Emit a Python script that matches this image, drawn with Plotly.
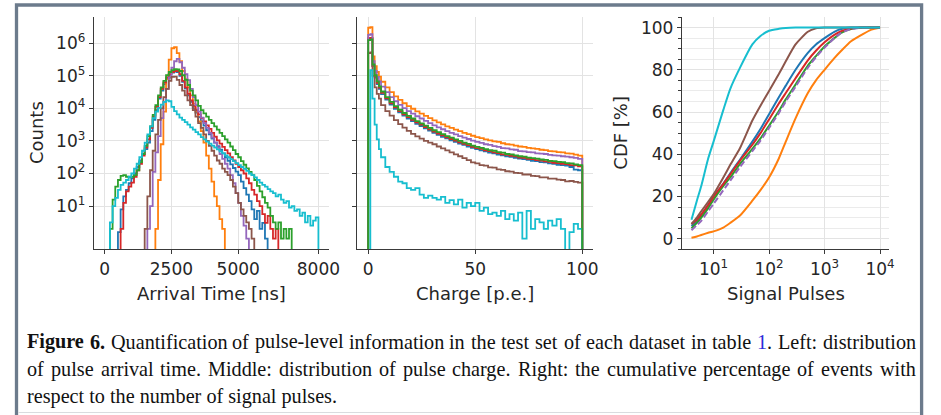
import plotly.graph_objects as go

# ---------------- data ----------------
E = -3  # empty bin (log10 count below axis)

# Left panel: log10(counts) per 100 ns bin, bins [0,100) ... [7900,8000)
time_edges = list(range(0, 8001, 100))

blue_time = [E, E, E, E, E, 0.2, 0.9, 1.3, 1.5, 1.7,
             1.85, 2.0, 2.2, 2.4, 2.6, 2.75, 2.95, 3.3, 3.65, 3.95,
             4.3, 4.55, 4.75, 4.92, 5.03, 5.1, 5.13, 5.12, 5.0, 4.82,
             4.62, 4.4, 4.2, 4.0, 3.87, 3.73, 3.6, 3.47, 3.33, 3.2,
             3.07, 2.95, 2.84, 2.73, 2.62, 2.5, 2.39, 2.28, 2.17, 2.06,
             1.95, 1.75, 1.55, 1.35, 1.15, 0.9, 0.6, 0.85, 0.3, 0.48,
             0.0, E, E, E, E, E, E, E, E, E,
             E, E, E, E, E, E, E, E, E, E]
orange_time = [E, E, E, E, E, E, E, E, E, E,
               E, E, E, E, E, E, E, E, E, 0.3,
               1.8, 2.9, 3.9, 4.9, 5.5, 5.85, 5.88, 5.7, 5.45, 5.15,
               4.9, 4.65, 4.4, 4.15, 3.9, 3.6, 3.3, 2.95, 2.55, 2.15,
               1.75, 1.3, 1.0, 0.6, 0.3, E, E, E, E, E,
               E, E, E, E, E, E, E, E, E, E,
               E, E, E, E, E, E, E, E, E, E,
               E, E, E, E, E, E, E, E, E, E]
green_time = [E, E, 0.3, 1.2, 1.6, 1.8, 1.93, 1.95, 1.9, 1.88,
              1.9, 1.95, 2.1, 2.35, 2.6, 2.85, 3.15, 3.45, 3.8, 4.1,
              4.4, 4.65, 4.85, 5.02, 5.12, 5.18, 5.21, 5.2, 5.15, 5.02,
              4.88, 4.72, 4.55, 4.4, 4.25, 4.08, 3.95, 3.85, 3.75, 3.65,
              3.55, 3.45, 3.35, 3.25, 3.15, 3.05, 2.95, 2.83, 2.72, 2.6,
              2.5, 2.38, 2.27, 2.16, 2.05, 1.95, 1.8, 1.62, 1.45, 1.27,
              1.1, 0.95, 0.7, 0.5, 0.3, 0.5, 0.0, 0.3, 0.0, 0.3,
              E, E, E, E, E, E, E, E, E, E]
red_time = [E, E, E, E, E, E, 0.3, 1.1, 1.45, 1.6,
            1.72, 1.9, 2.1, 2.3, 2.55, 2.8, 3.05, 3.4, 3.75, 4.05,
            4.35, 4.6, 4.8, 4.95, 5.05, 5.12, 5.15, 5.15, 5.05, 4.85,
            4.65, 4.45, 4.25, 4.08, 3.95, 3.82, 3.7, 3.6, 3.48, 3.37,
            3.25, 3.13, 3.02, 2.92, 2.82, 2.72, 2.62, 2.5, 2.4, 2.3,
            2.2, 2.1, 2.0, 1.85, 1.7, 1.5, 1.35, 1.15, 1.0, 0.75,
            0.48, 0.7, 0.3, 0.0, 0.3, E, E, E, E, E,
            E, E, E, E, E, E, E, E, E, E]
purple_time = [E, E, E, E, E, E, E, E, E, E,
               E, E, E, E, E, E, 0.3, 1.0, 2.05, 2.65,
               3.15, 3.7, 4.2, 4.6, 4.95, 5.25, 5.45, 5.52, 5.42, 5.25,
               5.05, 4.87, 4.6, 4.35, 4.1, 3.9, 3.72, 3.55, 3.4, 3.25,
               3.1, 2.95, 2.8, 2.6, 2.45, 2.3, 2.15, 1.95, 1.7, 1.4,
               1.1, 0.7, 0.4, 0.0, E, E, E, E, E, E,
               E, E, E, E, E, E, E, E, E, E,
               E, E, E, E, E, E, E, E, E, E]
brown_time = [E, E, E, E, E, E, E, E, E, E,
              E, E, E, E, E, 0.3, 1.3, 2.1, 2.7, 3.2,
              3.65, 4.0, 4.35, 4.6, 4.85, 4.97, 4.98, 4.88, 4.72, 4.55,
              4.4, 4.25, 4.1, 3.95, 3.75, 3.55, 3.4, 3.2, 3.0, 2.85,
              2.7, 2.55, 2.4, 2.3, 2.15, 2.05, 1.95, 1.8, 1.6, 1.4,
              1.1, 0.9, 0.7, 0.5, 0.3, 0.0, E, E, E, E,
              E, E, E, E, E, E, E, E, E, E,
              E, E, E, E, E, E, E, E, E, E]
cyan_time = [E, E, 0.5, 1.0, 1.25, 1.5, 1.65, 1.72, 1.8, 1.9,
             2.0, 2.15, 2.3, 2.5, 2.7, 2.95, 3.2, 3.45, 3.7, 3.9,
             4.02, 4.12, 4.2, 4.25, 4.22, 4.05, 3.92, 3.82, 3.72, 3.65,
             3.58, 3.5, 3.42, 3.35, 3.27, 3.2, 3.12, 3.05, 2.98, 2.92,
             2.86, 2.8, 2.74, 2.68, 2.62, 2.56, 2.5, 2.44, 2.38, 2.32,
             2.26, 2.2, 2.14, 2.08, 2.0, 1.95, 1.88, 1.8, 1.72, 1.65,
             1.6, 1.52, 1.45, 1.4, 1.3, 1.35, 1.2, 1.1, 1.15, 0.95,
             1.0, 0.85, 0.9, 0.7, 0.8, 0.5, 0.7, 0.4, 0.55, 0.65]

# Middle panel: log10(counts) per charge bin
charge_edges = [0, 1, 2, 3, 4, 5, 6] + list(range(8, 101, 2))

orange_charge = [6.48, 6.5, 5.6, 5.3, 5.12, 4.98,
                 4.82, 4.65, 4.5, 4.37, 4.26, 4.16, 4.07, 3.99, 3.91, 3.84,
                 3.77, 3.7, 3.63, 3.57, 3.51, 3.45, 3.4, 3.35, 3.3, 3.25,
                 3.21, 3.16, 3.12, 3.09, 3.05, 3.02, 2.99, 2.97, 2.93, 2.9,
                 2.89, 2.86, 2.83, 2.82, 2.79, 2.77, 2.76, 2.73, 2.72, 2.69,
                 2.68, 2.66, 2.65, 2.62, 2.61, 2.58, 2.55]
purple_charge = [6.26, 6.28, 5.45, 5.15, 4.97, 4.83,
                 4.67, 4.5, 4.35, 4.22, 4.11, 4.01, 3.92, 3.84, 3.76, 3.69,
                 3.62, 3.55, 3.48, 3.42, 3.36, 3.3, 3.25, 3.2, 3.15, 3.1,
                 3.06, 3.01, 2.97, 2.94, 2.9, 2.88, 2.84, 2.82, 2.78, 2.77,
                 2.74, 2.73, 2.69, 2.68, 2.66, 2.65, 2.62, 2.61, 2.6, 2.57,
                 2.56, 2.55, 2.53, 2.52, 2.5, 2.48, 2.45]
green_charge = [6.1, 6.12, 5.35, 5.02, 4.83, 4.68,
                4.52, 4.35, 4.2, 4.07, 3.96, 3.86, 3.77, 3.69, 3.61, 3.54,
                3.47, 3.4, 3.33, 3.27, 3.21, 3.15, 3.1, 3.05, 3.0, 2.95,
                2.91, 2.86, 2.82, 2.79, 2.75, 2.72, 2.7, 2.66, 2.64, 2.6,
                2.59, 2.56, 2.53, 2.52, 2.49, 2.47, 2.46, 2.43, 2.42, 2.39,
                2.38, 2.36, 2.35, 2.32, 2.31, 2.28, 2.26]
red_charge = [6.16, 6.17, 5.3, 4.98, 4.79, 4.64,
              4.48, 4.31, 4.16, 4.03, 3.92, 3.82, 3.73, 3.65, 3.57, 3.5,
              3.43, 3.36, 3.29, 3.23, 3.17, 3.11, 3.06, 3.01, 2.96, 2.91,
              2.87, 2.82, 2.78, 2.76, 2.71, 2.69, 2.65, 2.63, 2.59, 2.57,
              2.54, 2.53, 2.49, 2.48, 2.45, 2.44, 2.41, 2.4, 2.37, 2.36,
              2.33, 2.32, 2.3, 2.29, 2.26, 2.25, 2.22]
blue_charge = [6.14, 6.15, 5.3, 4.95, 4.75, 4.6,
               4.44, 4.27, 4.12, 3.99, 3.88, 3.78, 3.69, 3.61, 3.53, 3.46,
               3.39, 3.32, 3.25, 3.19, 3.13, 3.08, 3.02, 2.97, 2.92, 2.88,
               2.83, 2.79, 2.75, 2.71, 2.68, 2.64, 2.62, 2.58, 2.56, 2.53,
               2.51, 2.48, 2.46, 2.44, 2.42, 2.39, 2.38, 2.35, 2.34, 2.31,
               2.3, 2.27, 2.26, 2.24, 2.2, 2.12, 2.1]
brown_charge = [5.7, 5.72, 5.0, 4.65, 4.45, 4.3,
                4.1, 3.92, 3.78, 3.64, 3.52, 3.41, 3.31, 3.22, 3.14, 3.07,
                3.0, 2.95, 2.9, 2.83, 2.77, 2.71, 2.65, 2.59, 2.53, 2.47,
                2.41, 2.34, 2.31, 2.26, 2.24, 2.19, 2.18, 2.13, 2.11, 2.07,
                2.06, 2.02, 2.01, 1.97, 1.97, 1.93, 1.92, 1.88, 1.88, 1.84,
                1.84, 1.81, 1.8, 1.76, 1.77, 1.74, 1.72]
cyan_charge = [E, 5.18, 4.3, 3.5, 3.05, 2.75,
               2.5, 2.2, 2.05, 1.9, 1.75, 1.7, 1.55, 1.5, 1.55, 1.35,
               1.25, 1.32, 1.25, 1.2, 1.28, 1.1, 1.18, 1.05, 1.2, 0.95,
               1.1, 1.0, 1.1, 0.85, 0.95, 0.75, 0.8, 0.7, 0.85, 0.6,
               0.75, 0.55, 0.8, 0.0, 0.85, 0.3, 0.6, 0.5, 0.3, 0.55,
               0.4, 0.6, 0.3, E, 0.2, 0.45, 0.3]

# Right panel: CDF [%] vs number of signal pulses
pulses = [4, 5, 6, 8, 10, 15, 20, 30, 50, 70, 100, 150, 200, 300, 500, 700,
          1000, 1500, 2000, 3000, 5000, 7000, 10000]
blue_cdf = [6, 8.5, 11, 16, 20, 26, 31, 37.5, 46, 52, 59, 67, 72.5, 80, 88, 92,
            95, 98, 99.3, 100, 100, 100, 100]
orange_cdf = [0.5, 1.1, 1.8, 2.8, 3.5, 5.3, 7.5, 11, 18, 23, 29, 38, 46, 57, 69, 75,
              80, 85.5, 89, 93.5, 97, 99, 100]
green_cdf = [5, 7.5, 10, 14.5, 18.5, 25, 29, 35.5, 42.5, 47.5, 53.5, 60.5, 66, 73, 82, 86.5,
             91, 95, 97.5, 99.3, 100, 100, 100]
red_cdf = [7, 9, 11.5, 16, 20, 26, 30.5, 37, 44.5, 50, 56.5, 64, 69, 76, 84.5, 89,
           93, 96.5, 98.3, 99.6, 100, 100, 100]
purple_cdf = [4, 6.5, 8.5, 13, 16.5, 23, 27.5, 34, 41.5, 46.5, 52.5, 59.5, 65, 72, 81, 86,
              90.5, 95, 97.5, 99.3, 100, 100, 100]
brown_cdf = [7, 10, 13, 17.5, 21, 29, 35, 43, 56, 63, 70, 78, 84, 92, 98, 99.6,
             100, 100, 100, 100, 100, 100, 100]
cyan_cdf = [9, 18, 25, 38, 46, 61, 71, 81, 92, 96, 98.5, 99.4, 99.8, 100, 100, 100,
            100, 100, 100, 100, 100, 100, 100]

x_ticks_time = [0, 2500, 5000, 8000]
x_ticks_charge = [0, 50, 100]
y_tick_counts = [10, 100, 1000, 10000, 100000, 1000000]
y_tick_counts_text = ["10<sup>1</sup>", "10<sup>2</sup>", "10<sup>3</sup>",
                      "10<sup>4</sup>", "10<sup>5</sup>", "10<sup>6</sup>"]
x_ticks_pulses = [10, 100, 1000, 10000]
x_ticks_pulses_text = ["10<sup>1</sup>", "10<sup>2</sup>", "10<sup>3</sup>", "10<sup>4</sup>"]
y_ticks_cdf = [0, 20, 40, 60, 80, 100]

caption_line1 = [("Figure", True), ("6.", True), ("Quantification", False), ("of", False),
                 ("pulse-level", False), ("information", False), ("in", False), ("the", False),
                 ("test", False), ("set", False), ("of", False), ("each", False), ("dataset", False),
                 ("in", False), ("table", False), ("1.", False), ("Left:", False),
                 ("distribution", False)]
caption_line2 = "of pulse arrival time. Middle: distribution of pulse charge. Right: the cumulative percentage of events with"
caption_line3 = "respect to the number of signal pulses."

C = {"blue": "#1f77b4", "orange": "#ff7f0e", "green": "#2ca02c", "red": "#d62728",
     "purple": "#9467bd", "brown": "#8c564b", "cyan": "#17becf"}

# ---------------- figure ----------------
W, H = 941, 415
FLOOR = 10 ** E


def step_xy(edges, logvals):
    xs = [edges[0]] + list(edges[:-1]) + [edges[-1], edges[-1]]
    ys = [FLOOR] + [10 ** v for v in logvals] + [10 ** logvals[-1], FLOOR]
    return xs, ys


def px(x):
    return x / W


def py(y):
    return 1 - y / H


fig = go.Figure()

LW = 1.8
time_series = [("blue", blue_time), ("orange", orange_time), ("red", red_time),
               ("purple", purple_time), ("brown", brown_time), ("green", green_time),
               ("cyan", cyan_time)]
for name, vals in time_series:
    xs, ys = step_xy(time_edges, vals)
    fig.add_trace(go.Scatter(x=xs, y=ys, mode="lines", line=dict(color=C[name], width=LW, shape="hv"),
                             xaxis="x", yaxis="y", showlegend=False, hoverinfo="skip"))

charge_series = [("blue", blue_charge), ("orange", orange_charge), ("red", red_charge),
                 ("purple", purple_charge), ("brown", brown_charge), ("cyan", cyan_charge),
                 ("green", green_charge)]
for name, vals in charge_series:
    xs, ys = step_xy(charge_edges, vals)
    fig.add_trace(go.Scatter(x=xs, y=ys, mode="lines", line=dict(color=C[name], width=LW, shape="hv"),
                             xaxis="x2", yaxis="y2", showlegend=False, hoverinfo="skip"))

cdf_series = [("blue", blue_cdf, None), ("orange", orange_cdf, None), ("green", green_cdf, None),
              ("red", red_cdf, None), ("purple", purple_cdf, "6px,3px"), ("brown", brown_cdf, None),
              ("cyan", cyan_cdf, None)]
for name, vals, dash in cdf_series:
    fig.add_trace(go.Scatter(x=pulses, y=vals, mode="lines",
                             line=dict(color=C[name], width=2.0, shape="spline", smoothing=0.6,
                                       dash=dash if dash else "solid"),
                             xaxis="x3", yaxis="y3", showlegend=False, hoverinfo="skip"))

FONT = dict(family="DejaVu Sans", size=17, color="#262626")
GRID = "#e3e3e3"
common = dict(showgrid=True, gridcolor=GRID, gridwidth=1, showline=True, linecolor="#3a3a3a",
              linewidth=1.3, ticks="outside", ticklen=4, tickwidth=1.2, tickcolor="#3a3a3a",
              zeroline=False, tickfont=FONT, mirror=False)

fig.update_layout(
    width=W, height=H, autosize=False,
    margin=dict(l=0, r=0, t=0, b=0),
    paper_bgcolor="white", plot_bgcolor="white",
    xaxis=dict(domain=[px(95), px(333)], range=[-400, 8400], tickvals=x_ticks_time,
               anchor="y", **common),
    yaxis=dict(domain=[py(249), py(17)], type="log", range=[-0.32, 6.81],
               tickvals=y_tick_counts, ticktext=y_tick_counts_text, anchor="x", **common),
    xaxis2=dict(domain=[px(361.7), px(600)], range=[-5, 105], tickvals=x_ticks_charge,
                anchor="y2", **common),
    yaxis2=dict(domain=[py(249), py(17)], type="log", range=[-0.32, 6.81],
                tickvals=y_tick_counts, showticklabels=False, anchor="x2", **common),
    xaxis3=dict(domain=[px(690), px(900)], type="log", range=[0.43, 4.17],
                tickvals=x_ticks_pulses, ticktext=x_ticks_pulses_text, anchor="y3", **common),
    yaxis3=dict(domain=[py(249.3), py(17)], range=[-5, 105], tickvals=y_ticks_cdf,
                minor=dict(dtick=5, showgrid=True, gridcolor="#ebebeb", ticks="outside",
                           ticklen=2.5, tickcolor="#3a3a3a"),
                anchor="x3", **common),
)

TITLE_FONT = dict(family="DejaVu Sans", size=18, color="#262626")
annotations = [
    dict(text="Arrival Time [ns]", x=px(214), y=py(293)),
    dict(text="Charge [p.e.]", x=px(480.5), y=py(293)),
    dict(text="Signal Pulses", x=px(795), y=py(293)),
    dict(text="Counts", x=px(36.5), y=py(133), textangle=-90),
    dict(text="CDF [%]", x=px(627), y=py(133), textangle=-90),
]
for a in annotations:
    fig.add_annotation(xref="paper", yref="paper", showarrow=False, xanchor="center",
                       yanchor="middle", font=TITLE_FONT, **a)

# ---- caption (justified like the reference: words spread over a fixed width) ----
CAP_SIZE = 20.2
CAP_FONT = dict(family="Liberation Serif", size=CAP_SIZE, color="#111111")
TIMES = {" ": 250, ".": 250, ":": 278, ",": 250, "-": 333, "1": 500, "6": 500,
         "F": 556, "L": 611, "M": 889, "Q": 722, "R": 667,
         "a": 444, "b": 500, "c": 444, "d": 500, "e": 444, "f": 333, "g": 500, "h": 500,
         "i": 278, "j": 278, "k": 500, "l": 278, "m": 778, "n": 500, "o": 500, "p": 500,
         "q": 500, "r": 333, "s": 389, "t": 278, "u": 500, "v": 500, "w": 722, "x": 500,
         "y": 500, "z": 444}
TIMES_BOLD = {"F": 611, "i": 278, "g": 500, "u": 556, "r": 444, "e": 444, "6": 500, ".": 250}


def word_w(word, bold=False):
    tab = TIMES_BOLD if bold else TIMES
    return sum(tab.get(ch, TIMES.get(ch, 500)) for ch in word) / 1000.0 * CAP_SIZE


X_LEFT, X_RIGHT = 26.5, 925.0


def justified(words, ycen):
    widths = [word_w(w, b) for w, b in words]
    gap = (X_RIGHT - X_LEFT - sum(widths)) / (len(words) - 1)
    x = X_LEFT
    for (w, b), wd in zip(words, widths):
        txt = w
        if w == "1.":
            txt = "<span style='color:#2b2bd9'>1</span>."
        if b:
            txt = "<b>" + txt + "</b>"
        fig.add_annotation(xref="paper", yref="paper", showarrow=False, xanchor="left",
                           yanchor="middle", x=px(x), y=py(ycen), text=txt, font=CAP_FONT,
                           borderpad=0)
        x += wd + gap


justified(caption_line1, 341.5)
justified([(w, False) for w in caption_line2.split(" ")], 369)
fig.add_annotation(xref="paper", yref="paper", showarrow=False, xanchor="left",
                   yanchor="middle", x=px(X_LEFT), y=py(396.5), text=caption_line3,
                   font=CAP_FONT, borderpad=0)

# frame box
fig.add_shape(type="rect", xref="paper", yref="paper", x0=px(16.7), x1=px(932.5),
              y0=py(425), y1=py(5), line=dict(color="#6c7b8c", width=3.3), fillcolor="rgba(0,0,0,0)")
fig.add_shape(type="line", xref="paper", yref="paper", x0=px(18.5), x1=px(930.5),
              y0=py(412.5), y1=py(412.5), line=dict(color="#d9dcdf", width=1))

fig.write_html("out.html", config={"displayModeBar": False})
